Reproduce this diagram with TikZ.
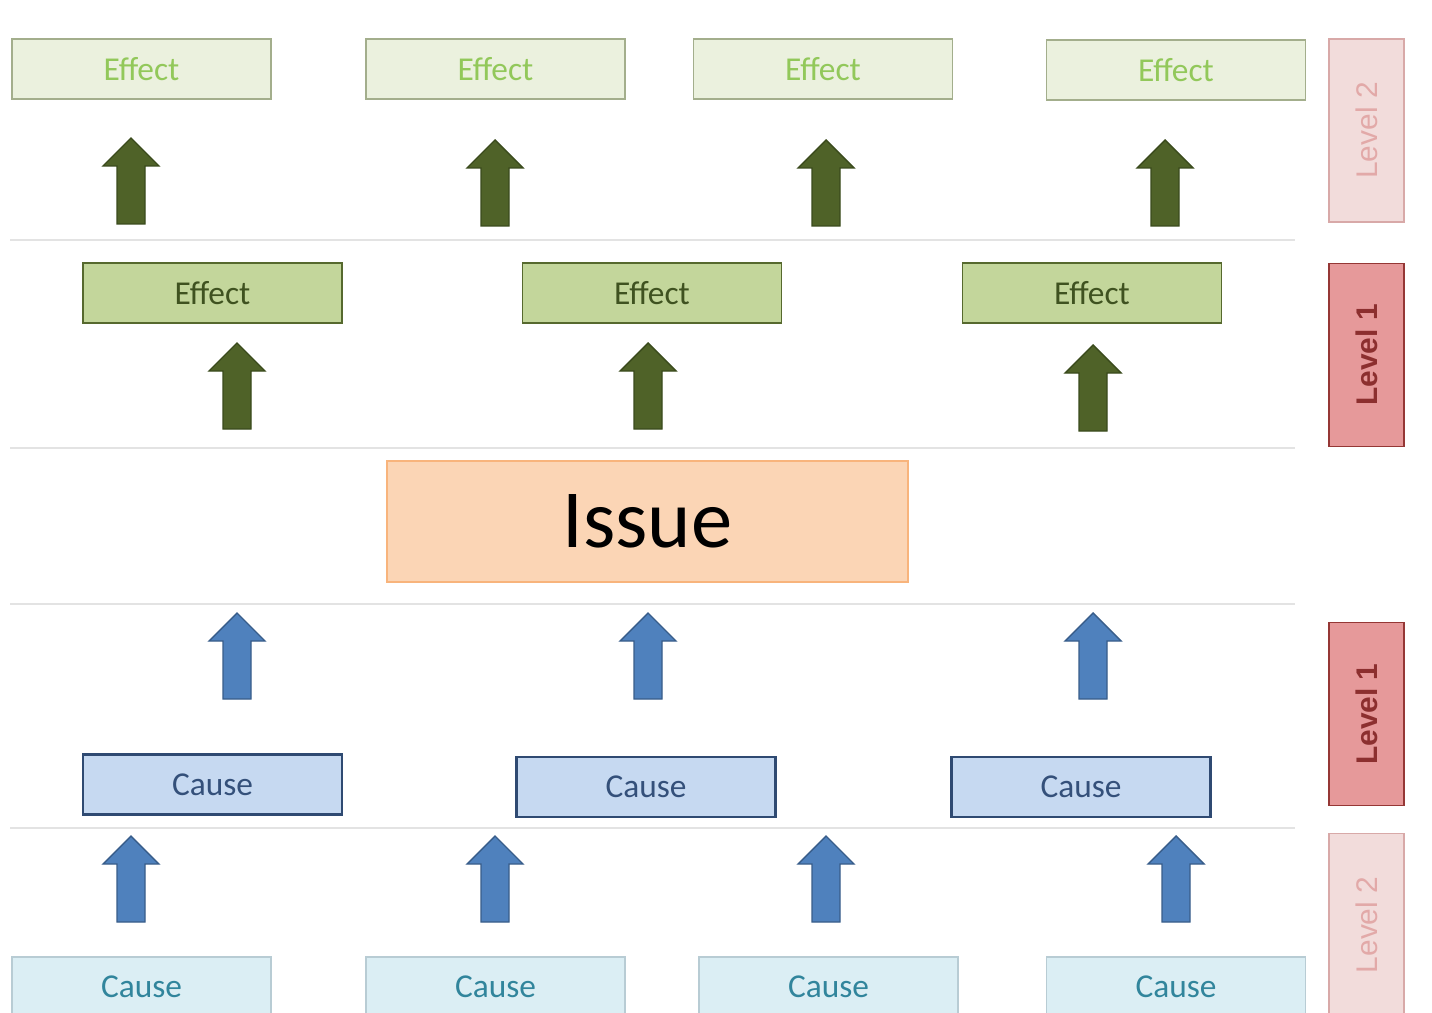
\documentclass[tikz,border=0pt]{standalone}
\usepackage{fontspec}
\setmainfont{Carlito}
\newfontfamily\levelfont{Liberation Sans}
\begin{document}
\begin{tikzpicture}[x=0.02cm,y=-0.02cm,
  box/.style={rectangle,minimum width=5.18cm,minimum height=1.2cm,inner sep=0pt,
    font=\fontsize{19}{22}\selectfont,line width=0.9pt},
  effecttwo/.style={box,fill=effTwoFill,draw=effTwoLine,text=effTwoText},
  effectone/.style={box,fill=effOneFill,draw=effOneLine,text=effOneText},
  causeone/.style={box,fill=causeOneFill,draw=causeOneLine,text=causeOneText,line width=1.2pt},
  causetwo/.style={box,fill=causeTwoFill,draw=causeTwoLine,text=causeTwoText},
  issuebox/.style={rectangle,minimum width=10.42cm,minimum height=2.42cm,inner sep=0pt,
    fill=issueFill,draw=issueLine,line width=1.6pt,font=\fontsize{47}{50}\selectfont},
  lvl/.style={rectangle,minimum width=1.5cm,minimum height=3.66cm,inner sep=0pt,
    line width=0.8pt,font=\levelfont\fontsize{17}{20}\selectfont},
  lvltwo/.style={lvl,fill=lvTwoFill,draw=lvTwoLine,text=lvTwoText},
  lvlone/.style={lvl,fill=lvOneFill,draw=lvOneLine,text=lvOneText,font=\levelfont\bfseries\fontsize{17}{20}\selectfont},
  sep/.style={draw=sepGray,line width=0.6pt},
  greenarrow/.style={fill=arrGreen,draw=arrGreenLine,line width=0.8pt,line join=miter},
  bluearrow/.style={fill=arrBlue,draw=arrBlueLine,line width=0.8pt,line join=miter},
  uparrow/.pic={\path[pic actions] (-14,0) -- (-14,-58) -- (-28,-58) -- (0,-86)
      -- (28,-58) -- (14,-58) -- (14,0) -- cycle;}
]
\definecolor{effTwoFill}{HTML}{EBF1DE}
\definecolor{effTwoLine}{HTML}{A3AE8C}
\definecolor{effTwoText}{HTML}{92C85A}
\definecolor{effOneFill}{HTML}{C3D69B}
\definecolor{effOneLine}{HTML}{56692E}
\definecolor{effOneText}{HTML}{3F5220}
\definecolor{causeOneFill}{HTML}{C6D9F1}
\definecolor{causeOneLine}{HTML}{2F4A72}
\definecolor{causeOneText}{HTML}{34507A}
\definecolor{causeTwoFill}{HTML}{DBEEF4}
\definecolor{causeTwoLine}{HTML}{B8CCD4}
\definecolor{causeTwoText}{HTML}{31859C}
\definecolor{issueFill}{HTML}{FBD5B5}
\definecolor{issueLine}{HTML}{F8B47C}
\definecolor{lvTwoFill}{HTML}{F2DCDB}
\definecolor{lvTwoLine}{HTML}{D8A9A8}
\definecolor{lvTwoText}{HTML}{E2A9A8}
\definecolor{lvOneFill}{HTML}{E6999A}
\definecolor{lvOneLine}{HTML}{953735}
\definecolor{lvOneText}{HTML}{8C2F2F}
\definecolor{sepGray}{HTML}{E3E3E3}
\definecolor{arrGreen}{HTML}{4F6228}
\definecolor{arrGreenLine}{HTML}{3A4A1C}
\definecolor{arrBlue}{HTML}{4F81BD}
\definecolor{arrBlueLine}{HTML}{385D8A}

\clip (0,0) rectangle (1432,1013);
\fill[white] (0,0) rectangle (1432,1013);

% row separators
\coordinate (s1a) at (10,240);  \coordinate (s1b) at (1295,240);
\coordinate (s2a) at (10,448);  \coordinate (s2b) at (1295,448);
\coordinate (s3a) at (10,604);  \coordinate (s3b) at (1295,604);
\coordinate (s4a) at (10,828);  \coordinate (s4b) at (1295,828);
\draw[sep] (s1a) -- (s1b);
\draw[sep] (s2a) -- (s2b);
\draw[sep] (s3a) -- (s3b);
\draw[sep] (s4a) -- (s4b);

% level 2 effects
\node[effecttwo] (e2a) at (141.5,69) {Effect};
\node[effecttwo] (e2b) at (495.5,69) {Effect};
\node[effecttwo] (e2c) at (823,69) {Effect};
\node[effecttwo] (e2d) at (1176,70) {Effect};

% level 1 effects
\node[effectone] (e1a) at (212.5,293) {Effect};
\node[effectone] (e1b) at (652,293) {Effect};
\node[effectone] (e1c) at (1092,293) {Effect};

% the issue
\node[issuebox] (issue) at (647.5,521.5) {Issue};

% level 1 causes
\node[causeone] (c1a) at (212.5,784.5) {Cause};
\node[causeone] (c1b) at (646,787) {Cause};
\node[causeone] (c1c) at (1081,787) {Cause};

% level 2 causes
\node[causetwo] (c2a) at (141.5,987) {Cause};
\node[causetwo] (c2b) at (495.5,987) {Cause};
\node[causetwo] (c2c) at (828.5,987) {Cause};
\node[causetwo] (c2d) at (1176,987) {Cause};

% level tags
\node[lvltwo] (t1) at (1366.5,130.5) {\rotatebox{90}{Level 2}};
\node[lvlone] (t2) at (1366.5,355) {\rotatebox{90}{Level 1}};
\node[lvlone] (t3) at (1366.5,714) {\rotatebox{90}{Level 1}};
\node[lvltwo] (t4) at (1366.5,925) {\rotatebox{90}{Level 2}};

% block arrows: level 1 to level 2 effects
\pic[greenarrow] at (131,224) {uparrow};
\pic[greenarrow] at (495,226) {uparrow};
\pic[greenarrow] at (826,226) {uparrow};
\pic[greenarrow] at (1165,226) {uparrow};
% issue to level 1 effects
\pic[greenarrow] at (237,429) {uparrow};
\pic[greenarrow] at (648,429) {uparrow};
\pic[greenarrow] at (1093,431) {uparrow};
% level 1 causes to issue
\pic[bluearrow] at (237,699) {uparrow};
\pic[bluearrow] at (648,699) {uparrow};
\pic[bluearrow] at (1093,699) {uparrow};
% level 2 causes to level 1 causes
\pic[bluearrow] at (131,922) {uparrow};
\pic[bluearrow] at (495,922) {uparrow};
\pic[bluearrow] at (826,922) {uparrow};
\pic[bluearrow] at (1176,922) {uparrow};
\end{tikzpicture}
\end{document}
